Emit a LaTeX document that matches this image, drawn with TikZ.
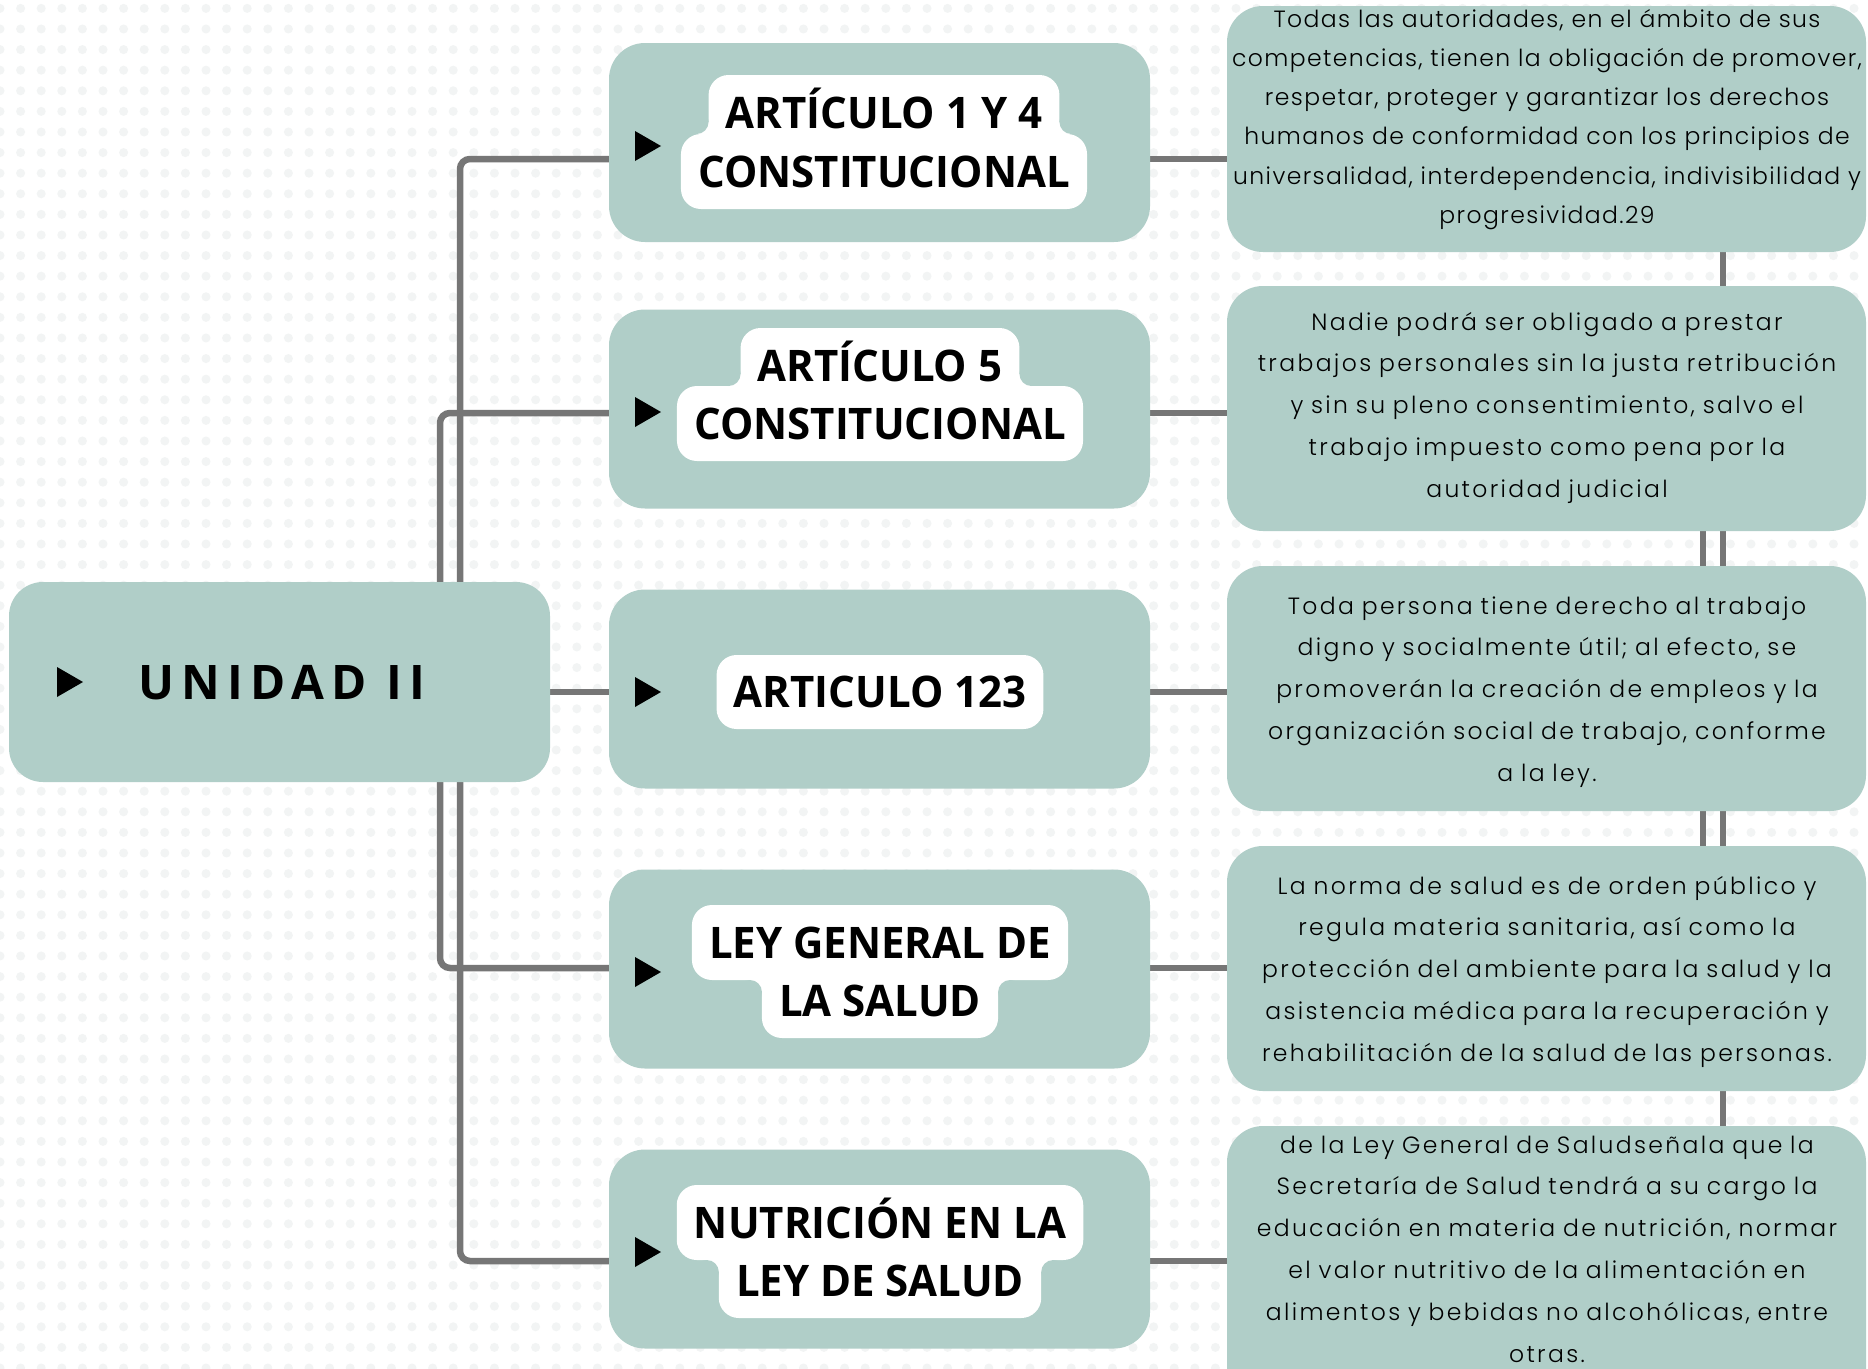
\documentclass[tikz,border=0pt]{standalone}
\usepackage{fontspec}
\usetikzlibrary{calc,patterns.meta}
\newfontfamily\headfont{Open Sans}[FakeStretch=0.965]
\newfontfamily\unifont{Open Sans}[LetterSpace=15]
\newfontfamily\bodyfont{Poppins Light}[LetterSpace=10]
\newfontfamily\bodyfonttight{Poppins Light}[LetterSpace=6]
\definecolor{boxcol}{HTML}{B0CEC8}
\definecolor{conncol}{HTML}{767676}
\definecolor{dotcol}{HTML}{F2F4F4}
\pgfdeclarelayer{conn}
\pgfdeclarelayer{pill}
\pgfdeclarelayer{front}
\pgfsetlayers{conn,main,pill,front}
\tikzdeclarepattern{
  name=bgdots,
  type=uncolored,
  bottom left={(-10.3pt,-10.3pt)},
  top right={(10.3pt,10.3pt)},
  tile size={(20.6pt,20.6pt)},
  code={\pgfpathcircle{\pgfpointorigin}{4.5pt}\pgfusepath{fill}}
}
% concave fillet: #1 anchor, #2 junction y, #3 x-sign, #4 y-sign
\newcommand{\pfil}[4]{%
  \fill[white] (#1 |- 0,#2) rectangle ++(#3*12,#4*12);
  \fill[boxcol] (#1 |- 0,#2) ++(#3*12,#4*12) circle (12pt);
}
\begin{document}
\begin{tikzpicture}[x=1pt,y=-1pt,
  conn/.style={draw=conncol, line width=6.5pt},
  unibox/.style={fill=boxcol, rounded corners=34pt, minimum width=541pt, minimum height=200pt, inner sep=0pt},
  midbox/.style={fill=boxcol, rounded corners=36pt, minimum width=541pt, minimum height=199pt, inner sep=0pt},
  rbox/.style={fill=boxcol, rounded corners=36pt, minimum width=639pt, inner sep=0pt},
  hd/.style={font=\headfont\bfseries\fontsize{43.5pt}{52pt}\selectfont, inner xsep=17pt, inner ysep=0pt, anchor=base},
  bt/.style={font=\bodyfont\fontsize{23.5pt}{41.8pt}\selectfont, text width=760pt, align=center, anchor=base, inner sep=0pt},
  pillfill/.style={fill=white, rounded corners=20pt},
  tri/.style={fill=black}
]
\useasboundingbox (0,0) rectangle (1868,1368);
\begin{pgfonlayer}{conn}
\fill[white] (0,0) rectangle (1868,1368);
\fill[pattern=bgdots, pattern color=dotcol] (0,0) rectangle (1868,1368);
\end{pgfonlayer}

% boxes
\node[unibox] (u) at (279.5,682) {};
\node[midbox] (b1) at (879.5,142.5) {};
\node[midbox] (b2) at (879.5,409) {};
\node[midbox] (b3) at (879.5,689) {};
\node[midbox] (b4) at (879.5,969) {};
\node[midbox] (b5) at (879.5,1249) {};
\node[rbox, minimum height=246pt] (r1) at (1546.5,129) {};
\node[rbox, minimum height=245pt] (r2) at (1546.5,408.5) {};
\node[rbox, minimum height=245pt] (r3) at (1546.5,688.5) {};
\node[rbox, minimum height=245pt] (r4) at (1546.5,968.5) {};
\node[rbox, minimum height=300pt] (r5) at (1546.5,1276) {};

% connectors
\coordinate (ja1) at (460,159);
\coordinate (ja2) at (460,1261);
\coordinate (jb1) at (440,413);
\coordinate (jb2) at (440,968);
\coordinate (vx1) at (1723,0);
\coordinate (vx2) at (1703,0);
\begin{pgfonlayer}{conn}
\draw[conn, rounded corners=10pt] (b1.center |- ja1) -- (ja1) -- (ja2) -- (b5.center |- ja2);
\draw[conn, rounded corners=10pt] (b2.center |- jb1) -- (jb1) -- (jb2) -- (b4.center |- jb2);
\draw[conn] (u.center |- 0,692) -- (b3.center |- 0,692);
\draw[conn] (b1.center |- 0,159) -- (r1.center |- 0,159);
\draw[conn] (b2.center |- 0,413) -- (r2.center |- 0,413);
\draw[conn] (b3.center |- 0,692) -- (r3.center |- 0,692);
\draw[conn] (b4.center |- 0,968) -- (r4.center |- 0,968);
\draw[conn] (b5.center |- 0,1261) -- (r5.center |- 0,1261);
\draw[conn] (r1.center -| vx1) -- (r5.center -| vx1);
\draw[conn] (r2.center -| vx2) -- (r4.center -| vx2);
\end{pgfonlayer}

% triangles
\fill[tri] (57,667) -- (83,682) -- (57,697) -- cycle;
\fill[tri] (635,131) -- (661,146) -- (635,161) -- cycle;
\fill[tri] (635,397) -- (661,412) -- (635,427) -- cycle;
\fill[tri] (635,677) -- (661,692) -- (635,707) -- cycle;
\fill[tri] (635,957) -- (661,972) -- (635,987) -- cycle;
\fill[tri] (635,1237) -- (661,1252) -- (635,1267) -- cycle;

% texts
\begin{pgfonlayer}{front}
\node[font=\unifont\bfseries\fontsize{47.6pt}{50pt}\selectfont, anchor=base west, inner sep=0pt] (ut) at (138,699) {UNIDAD II};
\node[hd] (b1a) at (884,128) {ARTÍCULO 1 Y 4};
\node[hd] (b1b) at (884,187) {CONSTITUCIONAL};
\node[hd] (b2a) at (880,381) {ARTÍCULO 5};
\node[hd] (b2b) at (880,439) {CONSTITUCIONAL};
\node[hd] (b3a) at (880,707) {ARTICULO 123};
\node[hd] (b4a) at (880,958) {LEY GENERAL DE};
\node[hd] (b4b) at (880,1016) {LA SALUD};
\node[hd] (b5a) at (880,1238) {NUTRICIÓN EN LA};
\node[hd] (b5b) at (880,1296) {LEY DE SALUD};

\node[bt, font=\bodyfonttight\fontsize{23.5pt}{39.3pt}\selectfont] (r1t) at (1547,27) {Todas las autoridades, en el ámbito de sus\\competencias, tienen la obligación de promover,\\respetar, proteger y garantizar los derechos\\humanos de conformidad con los principios de\\universalidad, interdependencia, indivisibilidad y\\progresividad.29};
\node[bt] (r2t) at (1547,330) {Nadie podrá ser obligado a prestar\\trabajos personales sin la justa retribución\\y sin su pleno consentimiento, salvo el\\trabajo impuesto como pena por la\\autoridad judicial};
\node[bt] (r3t) at (1547,614) {Toda persona tiene derecho al trabajo\\digno y socialmente útil; al efecto, se\\promoverán la creación de empleos y la\\organización social de trabajo, conforme\\a la ley.};
\node[bt] (r4t) at (1547,894) {La norma de salud es de orden público y\\regula materia sanitaria, así como la\\protección del ambiente para la salud y la\\asistencia médica para la recuperación y\\rehabilitación de la salud de las personas.};
\node[bt] (r5t) at (1547,1153) {de la Ley General de Saludseñala que la\\Secretaría de Salud tendrá a su cargo la\\educación en materia de nutrición, normar\\el valor nutritivo de la alimentación en\\alimentos y bebidas no alcohólicas, entre\\otras.};
\end{pgfonlayer}

% label pills
\begin{pgfonlayer}{pill}
\fill[pillfill] (b1a.west |- 0,75) rectangle (b1a.east |- 0,187);
\fill[pillfill] (b1b.west |- 0,134) rectangle (b1b.east |- 0,209);
\pfil{b1a.west}{134}{-1}{-1}
\pfil{b1a.east}{134}{1}{-1}
\fill[pillfill] (b2a.west |- 0,328) rectangle (b2a.east |- 0,439);
\fill[pillfill] (b2b.west |- 0,386) rectangle (b2b.east |- 0,461);
\pfil{b2a.west}{386}{-1}{-1}
\pfil{b2a.east}{386}{1}{-1}
\fill[pillfill] (b3a.west |- 0,655) rectangle (b3a.east |- 0,729);
\fill[pillfill] (b4a.west |- 0,905) rectangle (b4a.east |- 0,980);
\fill[pillfill] (b4b.west |- 0,958) rectangle (b4b.east |- 0,1038);
\pfil{b4b.west}{980}{-1}{1}
\pfil{b4b.east}{980}{1}{1}
\fill[pillfill] (b5a.west |- 0,1185) rectangle (b5a.east |- 0,1260);
\fill[pillfill] (b5b.west |- 0,1238) rectangle (b5b.east |- 0,1318);
\pfil{b5b.west}{1260}{-1}{1}
\pfil{b5b.east}{1260}{1}{1}
\end{pgfonlayer}
\end{tikzpicture}
\end{document}
